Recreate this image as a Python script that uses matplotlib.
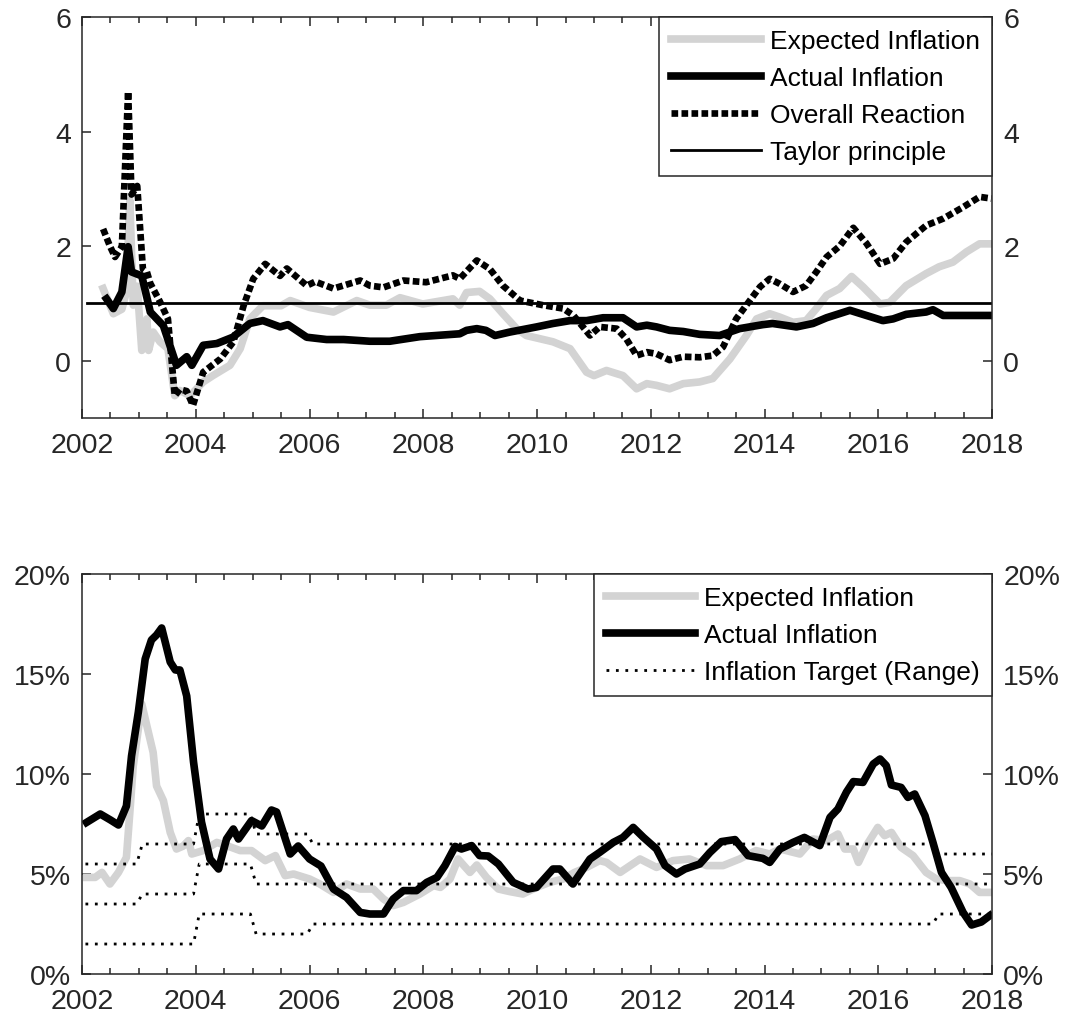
import numpy as np
import matplotlib
matplotlib.use('Agg')
import matplotlib.pyplot as plt
from matplotlib.ticker import MultipleLocator, FuncFormatter

plt.rcParams['font.family'] = ['Liberation Sans', 'DejaVu Sans']

# ---- top panel: reaction coefficients ----
top_act_x = [2002.43, 2002.55, 2002.70, 2002.81, 2002.87, 2003.05, 2003.2, 2003.43, 2003.66, 2003.84,
             2003.93, 2004.13, 2004.37, 2004.65, 2004.95, 2005.18, 2005.48, 2005.62, 2005.95, 2006.3,
             2006.6, 2007.06, 2007.41, 2007.94, 2008.64, 2008.76, 2008.94, 2009.1, 2009.26, 2009.52,
             2009.99, 2010.28, 2010.58, 2010.87, 2011.16, 2011.51, 2011.75, 2011.93, 2012.1, 2012.33,
             2012.57, 2012.86, 2013.21, 2013.56, 2013.97, 2014.14, 2014.56, 2014.85, 2015.09, 2015.5,
             2015.79, 2016.08, 2016.26, 2016.49, 2016.84, 2016.96, 2017.14, 2017.49, 2017.96]
top_act_y = [1.08, 0.91, 1.2, 1.99, 1.55, 1.48, 0.85, 0.61, -0.08, 0.07,
             -0.08, 0.27, 0.30, 0.41, 0.65, 0.70, 0.59, 0.63, 0.41, 0.37,
             0.37, 0.34, 0.34, 0.42, 0.47, 0.53, 0.56, 0.53, 0.44, 0.50,
             0.59, 0.65, 0.70, 0.70, 0.75, 0.75, 0.59, 0.62, 0.59, 0.53,
             0.51, 0.46, 0.44, 0.56, 0.63, 0.65, 0.59, 0.65, 0.75, 0.88,
             0.79, 0.70, 0.73, 0.81, 0.85, 0.89, 0.79, 0.79, 0.79]

top_exp_x = [2002.37, 2002.55, 2002.7, 2002.78, 2002.84, 2002.9, 2002.97, 2003.05, 2003.14, 2003.17,
             2003.25, 2003.37, 2003.51, 2003.63, 2003.72, 2003.9, 2004.13, 2004.3, 2004.6, 2004.78,
             2004.95, 2005.18, 2005.5, 2005.66, 2006.0, 2006.42, 2006.83, 2007.06, 2007.35, 2007.59,
             2007.99, 2008.52, 2008.64, 2008.76, 2008.99, 2009.17, 2009.4, 2009.64, 2009.81, 2010.28,
             2010.58, 2010.87, 2011.0, 2011.22, 2011.51, 2011.75, 2011.93, 2012.1, 2012.33, 2012.57,
             2012.86, 2013.09, 2013.39, 2013.68, 2013.86, 2014.09, 2014.27, 2014.5, 2014.73, 2014.91,
             2015.09, 2015.32, 2015.53, 2015.73, 2016.03, 2016.2, 2016.49, 2016.84, 2017.07, 2017.31,
             2017.55, 2017.78, 2017.99]
top_exp_y = [1.26, 0.82, 0.9, 1.2, 2.8, 0.97, 1.3, 0.18, 0.73, 0.18,
             0.5, 0.33, 0.21, -0.61, -0.52, -0.61, -0.37, -0.26, -0.08, 0.21,
             0.73, 0.96, 0.96, 1.05, 0.93, 0.85, 1.05, 0.97, 0.97, 1.1,
             0.99, 1.08, 0.97, 1.19, 1.21, 1.08, 0.82, 0.56, 0.44, 0.33,
             0.21, -0.2, -0.26, -0.17, -0.26, -0.49, -0.4, -0.43, -0.49, -0.4,
             -0.37, -0.31, 0.03, 0.44, 0.73, 0.82, 0.76, 0.67, 0.7, 0.91,
             1.14, 1.26, 1.47, 1.29, 0.99, 1.02, 1.31, 1.52, 1.64, 1.72,
             1.9, 2.04, 2.04]

top_all_x = [2002.37, 2002.49, 2002.58, 2002.7, 2002.81, 2002.87, 2002.97, 2003.07, 2003.14, 2003.2,
             2003.37, 2003.51, 2003.63, 2003.72, 2003.84, 2003.95, 2004.13, 2004.43, 2004.66, 2004.84,
             2005.01, 2005.22, 2005.48, 2005.6, 2005.95, 2006.1, 2006.42, 2006.89, 2007.06, 2007.3,
             2007.65, 2008.05, 2008.52, 2008.64, 2008.94, 2009.17, 2009.4, 2009.7, 2010.1, 2010.46,
             2010.64, 2010.93, 2011.1, 2011.4, 2011.57, 2011.75, 2011.93, 2012.1, 2012.33, 2012.57,
             2012.86, 2013.09, 2013.27, 2013.5, 2013.74, 2013.92, 2014.09, 2014.27, 2014.5, 2014.73,
             2014.91, 2015.09, 2015.32, 2015.56, 2015.79, 2016.03, 2016.26, 2016.49, 2016.84, 2017.14,
             2017.49, 2017.78, 2017.99]
top_all_y = [2.3, 2.0, 1.81, 1.99, 4.7, 2.9, 3.05, 1.6, 1.55, 1.35,
             1.03, 0.73, -0.61, -0.5, -0.53, -0.78, -0.2, 0.03, 0.33, 0.96,
             1.43, 1.69, 1.48, 1.61, 1.31, 1.38, 1.26, 1.4, 1.31, 1.28,
             1.4, 1.37, 1.49, 1.43, 1.75, 1.6, 1.31, 1.05, 0.97, 0.91,
             0.79, 0.44, 0.59, 0.56, 0.38, 0.09, 0.15, 0.12, 0.01, 0.07,
             0.06, 0.09, 0.24, 0.73, 1.05, 1.29, 1.43, 1.34, 1.2, 1.31,
             1.55, 1.81, 2.0, 2.32, 2.05, 1.69, 1.78, 2.07, 2.36, 2.48,
             2.68, 2.86, 2.83]

taylor_x = [2002.08, 2018.0]
taylor_y = [1, 1]

# ---- bottom panel: inflation in percent ----
bot_act_x = [2002.08, 2002.32, 2002.5, 2002.64, 2002.78, 2002.87, 2002.99, 2003.11, 2003.22, 2003.31,
             2003.4, 2003.55, 2003.64, 2003.72, 2003.84, 2003.96, 2004.1, 2004.25, 2004.4, 2004.54,
             2004.66, 2004.75, 2004.98, 2005.16, 2005.33, 2005.42, 2005.66, 2005.8, 2006.0, 2006.2,
             2006.42, 2006.65, 2006.89, 2007.06, 2007.3, 2007.47, 2007.65, 2007.88, 2008.06, 2008.24,
             2008.38, 2008.56, 2008.67, 2008.85, 2008.99, 2009.14, 2009.32, 2009.58, 2009.84, 2009.99,
             2010.28, 2010.4, 2010.63, 2010.93, 2011.1, 2011.34, 2011.51, 2011.69, 2011.87, 2012.1,
             2012.25, 2012.45, 2012.6, 2012.86, 2013.04, 2013.24, 2013.48, 2013.71, 2013.97, 2014.09,
             2014.27, 2014.5, 2014.7, 2014.97, 2015.15, 2015.29, 2015.44, 2015.56, 2015.73, 2015.91,
             2016.03, 2016.14, 2016.23, 2016.4, 2016.52, 2016.64, 2016.82, 2016.96, 2017.11, 2017.28,
             2017.49, 2017.64, 2017.81, 2017.96]
bot_act_y = [7.58, 8.0, 7.7, 7.45, 8.4, 10.9, 13.1, 15.75, 16.7, 16.95,
             17.3, 15.6, 15.2, 15.2, 13.9, 10.6, 7.6, 5.75, 5.25, 6.75,
             7.25, 6.75, 7.67, 7.4, 8.2, 8.1, 6.0, 6.4, 5.75, 5.4,
             4.25, 3.83, 3.08, 3.0, 3.0, 3.75, 4.17, 4.17, 4.58, 4.83,
             5.42, 6.38, 6.25, 6.42, 5.92, 5.9, 5.5, 4.58, 4.25, 4.33,
             5.25, 5.25, 4.5, 5.75, 6.08, 6.58, 6.83, 7.33, 6.83, 6.25,
             5.42, 5.0, 5.25, 5.5, 6.08, 6.62, 6.72, 5.92, 5.78, 5.58,
             6.25, 6.58, 6.83, 6.42, 7.83, 8.25, 9.1, 9.62, 9.58, 10.5,
             10.75, 10.42, 9.45, 9.33, 8.83, 9.0, 7.92, 6.58, 5.08, 4.33,
             3.08, 2.45, 2.6, 2.92]

bot_exp_x = [2002.08, 2002.23, 2002.35, 2002.49, 2002.64, 2002.78, 2002.84, 2002.9, 2003.05, 2003.14,
             2003.25, 2003.31, 2003.43, 2003.55, 2003.66, 2003.78, 2003.87, 2003.93, 2004.13, 2004.37,
             2004.54, 2004.78, 2004.98, 2005.22, 2005.4, 2005.57, 2005.72, 2006.0, 2006.18, 2006.42,
             2006.65, 2006.89, 2007.12, 2007.3, 2007.47, 2007.65, 2007.94, 2008.18, 2008.3, 2008.47,
             2008.61, 2008.82, 2008.94, 2009.11, 2009.32, 2009.52, 2009.75, 2009.99, 2010.22, 2010.46,
             2010.66, 2010.87, 2011.1, 2011.22, 2011.46, 2011.81, 2012.1, 2012.39, 2012.68, 2012.98,
             2013.27, 2013.56, 2013.85, 2014.09, 2014.27, 2014.62, 2014.85, 2015.09, 2015.29, 2015.41,
             2015.56, 2015.65, 2015.79, 2015.99, 2016.11, 2016.23, 2016.4, 2016.61, 2016.84, 2017.02,
             2017.2, 2017.43, 2017.61, 2017.78, 2017.99]
bot_exp_y = [4.83, 4.83, 5.08, 4.5, 5.08, 5.83, 8.08, 10.4, 13.5, 12.4,
             11.08, 9.4, 8.67, 7.08, 6.25, 6.4, 6.67, 6.0, 6.17, 6.58,
             6.42, 6.17, 6.17, 5.67, 5.92, 4.92, 5.0, 4.75, 4.5, 4.08,
             4.5, 4.25, 4.25, 3.75, 3.42, 3.58, 4.0, 4.42, 4.33, 4.75,
             5.75, 5.08, 5.45, 4.83, 4.25, 4.12, 4.0, 4.33, 4.58, 4.75,
             5.08, 5.33, 5.67, 5.58, 5.08, 5.75, 5.33, 5.67, 5.75, 5.42,
             5.42, 5.75, 6.17, 6.0, 6.25, 6.0, 6.75, 6.67, 7.0, 6.25,
             6.25, 5.58, 6.42, 7.33, 6.92, 7.08, 6.33, 5.92, 5.08, 4.75,
             4.67, 4.67, 4.5, 4.08, 4.08]

# inflation target range, one value per year
target_years = list(range(2002, 2018))
target_upper = [5.5, 6.5, 8, 7] + [6.5] * 11 + [6]
target_center = [3.5, 4, 5.5, 4.5] + [4.5] * 11 + [4.5]
target_lower = [1.5, 1.5, 3, 2] + [2.5] * 11 + [3]


def yearly_steps(years, vals):
    xs, ys = [], []
    for yr, v in zip(years, vals):
        xs += [yr + 0.06, yr + 0.96]
        ys += [v, v]
    xs[-1] = years[-1] + 1.0
    return xs, ys


gray = '#d3d3d3'
axcol = '#262626'

fig = plt.figure(figsize=(10.67, 10.2), dpi=100)
ax1 = fig.add_axes([0.0769, 0.5892, 0.8529, 0.3932])
ax2 = fig.add_axes([0.0769, 0.0441, 0.8529, 0.3922])

ax1.plot(top_exp_x, top_exp_y, color=gray, lw=5.5, label='Expected Inflation', solid_joinstyle='round')
ax1.plot(top_act_x, top_act_y, color='black', lw=5.5, label='Actual Inflation', solid_joinstyle='round')
ax1.plot(top_all_x, top_all_y, color='black', lw=4.8, ls=(0, (1, 0.5)), label='Overall Reaction')
ax1.plot(taylor_x, taylor_y, color='black', lw=2, label='Taylor principle')
ax1.set_ylim(-1, 6)
ax1.set_yticks([0, 2, 4, 6])

ax2.plot(bot_exp_x, bot_exp_y, color=gray, lw=5.5, label='Expected Inflation', solid_joinstyle='round')
ax2.plot(bot_act_x, bot_act_y, color='black', lw=5.5, label='Actual Inflation', solid_joinstyle='round')
for vals, lab in [(target_upper, 'Inflation Target (Range)'), (target_center, None), (target_lower, None)]:
    tx, ty = yearly_steps(target_years, vals)
    ax2.plot(tx, ty, color='black', lw=2, ls=(0, (1, 2.4)), label=lab)
ax2.set_ylim(0, 20)
ax2.set_yticks([0, 5, 10, 15, 20])
ax2.yaxis.set_major_formatter(FuncFormatter(lambda v, p: '%d%%' % v))

for ax in (ax1, ax2):
    ax.set_xlim(2002, 2018)
    ax.xaxis.set_major_locator(MultipleLocator(2))
    ax.xaxis.set_minor_locator(MultipleLocator(0.5))
    ax.tick_params(which='both', direction='in', top=True, right=True,
                   labelright=True, colors=axcol, labelcolor=axcol, width=1.1)
    ax.tick_params(which='major', length=6.5, labelsize=20.5)
    ax.tick_params(axis='x', which='major', pad=10)
    ax.tick_params(axis='y', which='major', pad=8)
    ax.tick_params(which='minor', length=4.5)
    for s in ax.spines.values():
        s.set_color(axcol)
        s.set_linewidth(1.1)
    leg = ax.legend(loc='upper right', borderaxespad=0, fancybox=False, framealpha=1,
                    edgecolor=axcol, fontsize=19, handlelength=3.4, handletextpad=0.35,
                    labelspacing=0.5, borderpad=0.45)
    leg.get_frame().set_linewidth(1.1)

fig.savefig('out.png', dpi=100)
